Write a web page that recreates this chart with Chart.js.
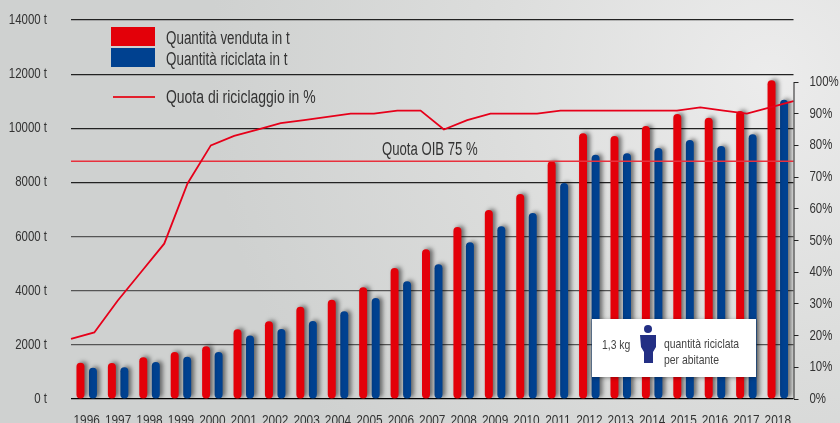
<!DOCTYPE html>
<html lang="it">
<head>
<meta charset="utf-8">
<title>Quantità venduta e riciclata</title>
<script src="https://cdn.jsdelivr.net/npm/chart.js@4"></script>
<style>
  html, body { margin: 0; padding: 0; }
  body { width: 840px; height: 423px; overflow: hidden; position: relative;
         font-family: "Liberation Sans", sans-serif; color: #333;
         background: radial-gradient(circle 560px at 770px 75px, #ececec 0%, #dcdddc 50%, #cfd1d0 100%); }
  canvas { position: absolute; left: 0; top: 0; }
  .t { position: absolute; white-space: nowrap; line-height: 1; transform-origin: 0 50%; }
  .sw { position: absolute; left: 111px; width: 44px; height: 19px; }
  #callout { position: absolute; left: 592px; top: 319px; width: 164px; height: 58px; background: #fff;
             box-shadow: 0 1px 4px rgba(0,0,0,.35); }
  #callout .t { font-size: 13px; color: #444; transform: scaleX(.8); }
  #callout svg { position: absolute; left: 48px; top: 5px; }
</style>
</head>
<body>
<canvas id="c" width="840" height="423"></canvas>
<div class="sw" style="top:27px;background:#e30009"></div>
<div class="sw" style="top:48px;background:#004190"></div>
<div class="sw" style="top:96px;left:113px;width:42px;height:2px;background:#e3202c"></div>
<div class="t" style="left:166px;top:29px;font-size:18px;transform:scaleX(.745)">Quantità venduta in t</div>
<div class="t" style="left:166px;top:50px;font-size:18px;transform:scaleX(.745)">Quantità riciclata in t</div>
<div class="t" style="left:166px;top:88px;font-size:18px;transform:scaleX(.775)">Quota di riciclaggio in %</div>
<div class="t" style="left:382px;top:140px;font-size:18px;transform:scaleX(.73)">Quota OIB 75 %</div>
<div id="callout">
  <div class="t" style="left:10px;top:19px;font-size:13px">1,3 kg</div>
  <svg width="18" height="42" viewBox="0 0 18 42"><circle cx="8" cy="5" r="4" fill="#232f84"/><path d="M0 11 H16 V23 L13 28 V39 H4 V28 L1 23 Z" fill="#232f84"/></svg>
  <div class="t" style="left:72px;top:18px">quantità riciclata</div>
  <div class="t" style="left:72px;top:34px">per abitante</div>
</div>
<script>
const years = ["1996","1997","1998","1999","2000","2001","2002","2003","2004","2005","2006","2007","2008","2009","2010","2011","2012","2013","2014","2015","2016","2017","2018"];
const quantitaVenduta = [1340,1330,1540,1735,1945,2575,2870,3410,3670,4125,4840,5530,6355,6980,7575,8780,9815,9715,10085,10530,10390,10640,11775];
const quantitaRiciclata = [1155,1170,1365,1565,1735,2350,2585,2880,3240,3730,4350,4975,5790,6380,6870,7980,9025,9075,9270,9570,9345,9780,11055];
const quotaSteps = ["1","2","3","4","5","6","7","8","9","10","11","12","13","14","15","16","17","18","19","20","21","22","23","24","25","26","27","28","29","30","31","32"];
const quotaRiciclaggio = [19,21,31,40,49,68,80,83,85,87,88,89,90,90,91,91,85,88,90,90,90,91,91,91,91,91,91,92,91,90,92,94];
const quotaOIB = [75,75,75,75,75,75,75,75,75,75,75,75,75,75,75,75,75,75,75,75,75,75,75,75,75,75,75,75,75,75,75,75];
const leftTicksMax = 14000;
const rightTicksMax = 100;

const fontFamily = '"Liberation Sans", sans-serif';
const narrow = 0.79;

const narrowText = {
  id: 'narrowText',
  beforeDraw(chart) {
    const ctx = chart.ctx;
    if (ctx.__narrow) return;
    ctx.__narrow = true;
    const fill = ctx.fillText.bind(ctx);
    ctx.fillText = function (text, x, y, w) {
      ctx.save();
      ctx.translate(x, y);
      ctx.scale(narrow, 1);
      if (w === undefined) fill(text, 0, 0); else fill(text, 0, 0, w);
      ctx.restore();
    };
  }
};

const barShadow = {
  id: 'barShadow',
  beforeDatasetDraw(chart, args) {
    if (args.meta.type !== 'bar') return;
    const ctx = chart.ctx;
    ctx.save();
    ctx.shadowColor = 'rgba(0,0,0,0.5)';
    ctx.shadowBlur = 4;
    ctx.shadowOffsetX = 3;
    ctx.shadowOffsetY = -1;
  },
  afterDatasetDraw(chart, args) {
    if (args.meta.type === 'bar') chart.ctx.restore();
  }
};

const rightAxisLine = {
  id: 'rightAxisLine',
  afterDatasetsDraw(chart) {
    const s = chart.scales.y2, ctx = chart.ctx;
    ctx.save();
    ctx.strokeStyle = '#222';
    ctx.lineWidth = 1;
    ctx.beginPath();
    ctx.moveTo(s.left + 0.5, s.getPixelForValue(rightTicksMax));
    ctx.lineTo(s.left + 0.5, s.getPixelForValue(0));
    ctx.stroke();
    ctx.restore();
  }
};

function noPad(s) { s.paddingTop = 0; s.paddingBottom = 0; s.paddingLeft = 0; s.paddingRight = 0; }

new Chart(document.getElementById('c'), {
  data: {
    labels: years,
    datasets: [
      { type: 'line', label: 'Quota di riciclaggio in %', data: quotaRiciclaggio, xAxisID: 'x2', yAxisID: 'y2',
        borderColor: '#e6001a', borderWidth: 1.8, pointRadius: 0, tension: 0, order: 0, clip: false },
      { type: 'line', label: 'Quota OIB 75 %', data: quotaOIB, xAxisID: 'x2', yAxisID: 'y2',
        borderColor: '#e8303c', borderWidth: 1.5, pointRadius: 0, tension: 0, order: 0 },
      { type: 'bar', label: 'Quantità venduta in t', data: quantitaVenduta, xAxisID: 'x', yAxisID: 'y',
        backgroundColor: '#e30009', borderRadius: 4, borderSkipped: false,
        categoryPercentage: 1.592, barPercentage: 0.64, order: 1 },
      { type: 'bar', label: 'Quantità riciclata in t', data: quantitaRiciclata, xAxisID: 'x', yAxisID: 'y',
        backgroundColor: '#004190', borderRadius: 4, borderSkipped: false,
        categoryPercentage: 1.592, barPercentage: 0.64, order: 1 }
    ]
  },
  options: {
    responsive: false,
    animation: false,
    layout: { padding: { top: 20, left: 0, right: 0, bottom: 0 } },
    plugins: { legend: { display: false }, tooltip: { enabled: false } },
    scales: {
      x: {
        type: 'category', position: 'bottom', offset: true,
        grid: { display: false },
        border: { display: false },
        ticks: { color: '#333', font: { family: fontFamily, size: 15 }, padding: 5, maxRotation: 0, autoSkip: false },
        afterFit(s) { s.height = 24; noPad(s); }
      },
      x2: {
        type: 'category', labels: quotaSteps, position: 'bottom', offset: false, display: false
      },
      y: {
        type: 'linear', position: 'left', min: 0, max: leftTicksMax,
        grid: {
          drawTicks: false, lineWidth: 1.2,
          color: c => c.tick.value === 0 ? '#000' : (c.tick.value <= 6000 ? '#555' : '#222')
        },
        border: { display: false },
        ticks: { stepSize: 2000, color: '#333', font: { family: fontFamily, size: 14.5 }, padding: 24,
                 callback: v => v + ' t' },
        afterFit(s) { s.width = 71; noPad(s); }
      },
      y2: {
        type: 'linear', position: 'right', min: 0, max: 119.56,
        grid: { drawOnChartArea: false, drawTicks: true, tickLength: 5, color: '#222', tickColor: '#222' },
        border: { display: false },
        ticks: { stepSize: 10, color: '#333', font: { family: fontFamily, size: 14.5 }, padding: 11,
                 callback: v => v + '%' },
        afterBuildTicks(s) { s.ticks = s.ticks.filter(t => t.value <= rightTicksMax); },
        afterFit(s) { s.width = 46.5; noPad(s); }
      }
    }
  },
  plugins: [narrowText, barShadow, rightAxisLine]
});
</script>
</body>
</html>
